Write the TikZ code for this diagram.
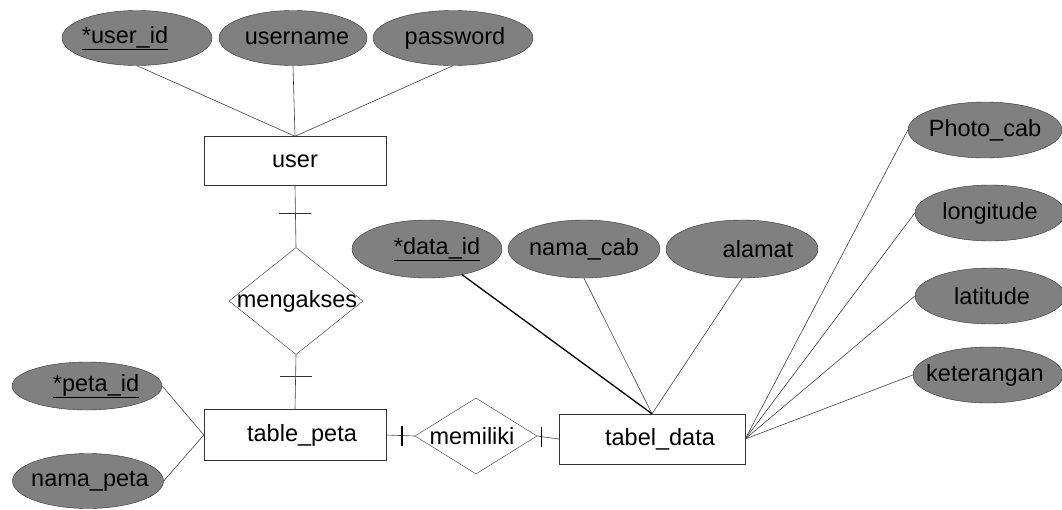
\documentclass[tikz,border=0pt]{standalone}
\usepackage{fontspec}
\setmainfont{Liberation Sans}
\usetikzlibrary{positioning, shapes.geometric}

\begin{document}
\begin{tikzpicture}[x=1pt, y=-1pt, font=\fontsize{23.5}{26}\selectfont,
    entity/.style={draw=black!80, fill=white, minimum width=182pt, minimum height=49pt, inner sep=0pt},
    attr/.style={ellipse, draw=black!80, fill=black!50, minimum width=150pt, minimum height=56pt, inner sep=0pt},
    rel/.style={diamond, draw=black!80, fill=white, inner sep=0pt},
    conn/.style={draw=black!75, line width=0.6pt},
    tickmark/.style={inner sep=0pt, text=black!80, font={}},
    barmark/.style={inner sep=0pt, text=black, font={}}
]
    \useasboundingbox (0,0) rectangle (1062,509);

    % entities
    \node[entity] (user) at (295,161) {user};
    \node[entity, minimum height=51pt] (peta) at (295,435) {\hspace{14pt}table\_peta};
    \node[entity, minimum width=186pt, minimum height=50pt] (data) at (652,439) {\hspace{16pt}tabel\_data};

    % relationships
    \node[rel, minimum width=134pt, minimum height=107pt, label={[xshift=1pt]center:mengakses}] (akses) at (296,301) {};
    \node[rel, minimum width=122pt, minimum height=76pt, label={[xshift=-4pt]center:memiliki}] (milik) at (476,436) {};

    % attributes of user
    \node[attr, minimum height=55pt, label={[xshift=-12pt]center:\underline{*user\_id}}] (uid) at (137,38) {};
    \node[attr, minimum width=148pt, minimum height=55pt, label={[xshift=4pt]center:username}] (uname) at (293,38) {};
    \node[attr, minimum width=160pt, minimum height=55pt, label={[xshift=2pt]center:password}] (upass) at (453,38) {};

    % attributes of table_peta
    \node[attr, minimum height=48pt, label={[xshift=9pt]center:\underline{*peta\_id}}] (pid) at (87,386) {};
    \node[attr, minimum width=151pt, minimum height=55pt, label={[xshift=2pt]center:nama\_peta}] (pnama) at (88,481) {};

    % attributes of tabel_data
    \node[attr, minimum height=58pt, label={[xshift=10pt]center:\underline{*data\_id}}] (did) at (427,249) {};
    \node[attr, minimum width=152pt, minimum height=58pt, label={[xshift=0pt]center:nama\_cab}] (dnama) at (584,249) {};
    \node[attr, minimum width=152pt, minimum height=58pt, label={[xshift=16pt]center:alamat}] (dalamat) at (742,249) {};
    \node[attr, minimum width=154pt, minimum height=56pt, label={[xshift=0pt]center:Photo\_cab}] (dphoto) at (985,130) {};
    \node[attr, minimum width=150pt, minimum height=56pt, label={[xshift=0pt]center:longitude}] (dlong) at (990,213) {};
    \node[attr, minimum width=150pt, minimum height=56pt, label={[xshift=2pt]center:latitude}] (dlat) at (990,296) {};
    \node[attr, minimum width=150pt, minimum height=56pt, label={[xshift=-3pt]center:keterangan}] (dket) at (988,375) {};

    % connectors
    \foreach \a in {uid, uname, upass}
    {
        \draw[conn] (\a.south) -- (user.north);
    }
    \foreach \a in {pid, pnama}
    {
        \draw[conn] (\a.east) -- (peta.west);
    }
    \foreach \a in {dnama, dalamat}
    {
        \draw[conn] (\a.south) -- (data.north);
    }
    \draw[black, line width=1.3pt] (did) -- (data.north);
    \foreach \a in {dphoto, dlong, dlat, dket}
    {
        \draw[conn] (\a.west) -- (data.east);
    }
    \draw[conn] (user.south) -- node[tickmark, pos=0.45] {\rule[-0.3pt]{32pt}{0.6pt}} (akses.north);
    \draw[conn] (peta.north) -- node[tickmark, pos=0.6] {\rule[-0.3pt]{32pt}{0.6pt}} (akses.south);
    \draw[conn] (peta.east) -- node[barmark, pos=0.55] {\rule{1.3pt}{20pt}} (milik.west);
    \draw[conn] (milik.east) -- node[barmark, pos=0.2] {\rule{1.3pt}{20pt}} (data.west);
\end{tikzpicture}
\end{document}
